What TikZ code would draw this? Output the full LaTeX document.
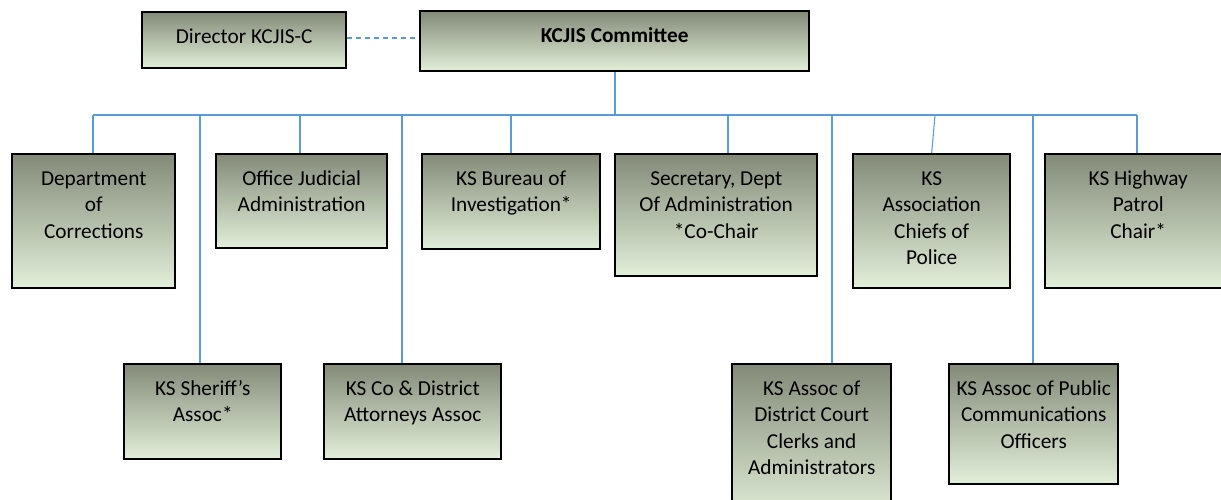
\documentclass[tikz,border=0pt]{standalone}
\usepackage{fontspec}
\setmainfont{Carlito}
\definecolor{boxtop}{RGB}{131,139,120}
\definecolor{boxbot}{RGB}{226,239,217}
\definecolor{conn}{RGB}{91,155,213}
\tikzset{
  orgbox/.style={draw=black, line width=2.4pt, rectangle, inner sep=0pt,
    top color=boxtop, bottom color=boxbot, anchor=north west},
  orgtxt/.style={inner sep=0pt, align=center, anchor=north,
    font=\fontsize{21.3}{26.5}\selectfont},
  link/.style={draw=conn, line width=1.1pt},
}
\newcommand{\obox}[6]{%
  \node[orgbox, minimum width={(#4-#2)*1pt}, minimum height={(#5-#3)*1pt}] (#1) at (#2,-#3) {};
  \node[orgtxt] (#1t) at ([yshift=-13.5pt]#1.north) {\strut #6};
}
\begin{document}
\begin{tikzpicture}[x=1pt,y=1pt]
\useasboundingbox (0,0) rectangle (1221,-500);
\clip (0,0) rectangle (1221,-500);
\coordinate (kcdrop) at (615,-70);
\coordinate (busL) at (93,-115);
\coordinate (busR) at (1137,-115);
\coordinate (d1) at (93,-115);
\coordinate (d2) at (200,-115);
\coordinate (d3) at (300,-115);
\coordinate (d4) at (402,-115);
\coordinate (d5) at (511,-115);
\coordinate (d6) at (728,-115);
\coordinate (d7) at (832,-115);
\coordinate (d8) at (935,-115);
\coordinate (d9) at (1033,-115);
\coordinate (d10) at (1137,-115);
% boxes
\obox{dir}{141}{11}{345}{67}{Director KCJIS-C}
\obox{kc}{419}{10}{808}{70}{\textbf{KCJIS Committee}}
\obox{dc}{11}{153}{174}{287}{Department\\of\\Corrections}
\obox{oja}{215}{153}{386}{247}{Office Judicial\\Administration}
\obox{kbi}{421}{153}{599}{248}{KS Bureau of\\Investigation*}
\obox{sec}{614}{153}{816}{275}{Secretary, Dept\\Of Administration\\*Co-Chair}
\obox{acp}{852}{153}{1009}{287}{KS\\Association\\Chiefs of\\Police}
\obox{khp}{1044}{153}{1230}{287}{KS Highway\\Patrol\\Chair*}
\obox{ksa}{123}{363}{280}{458}{KS Sheriff’s\\Assoc*}
\obox{kcd}{323}{363}{500}{458}{KS Co \& District\\Attorneys Assoc}
\obox{dcc}{731}{363}{890}{520}{KS Assoc of\\District Court\\Clerks and\\Administrators}
\obox{pco}{948}{363}{1117}{483}{KS Assoc of Public\\Communications\\Officers}
% links
\draw[link, dashed, dash pattern=on 5pt off 4pt] (dir.east |- 0,-38) -- (kc.west |- 0,-38);
\draw[link] (kc.south -| kcdrop) -- (kcdrop |- busL);
\draw[link] (busL) -- (busR);
\draw[link] (d1) -- (d1 |- dc.north);
\draw[link] (d2) -- (d2 |- ksa.north);
\draw[link] (d3) -- (d3 |- oja.north);
\draw[link] (d4) -- (d4 |- kcd.north);
\draw[link] (d5) -- (d5 |- kbi.north);
\draw[link] (d6) -- (d6 |- sec.north);
\draw[link] (d7) -- (d7 |- dcc.north);
\draw[link] (d8) -- (acp.north);
\draw[link] (d9) -- (d9 |- pco.north);
\draw[link] (d10) -- (d10 |- khp.north);
\end{tikzpicture}
\end{document}
